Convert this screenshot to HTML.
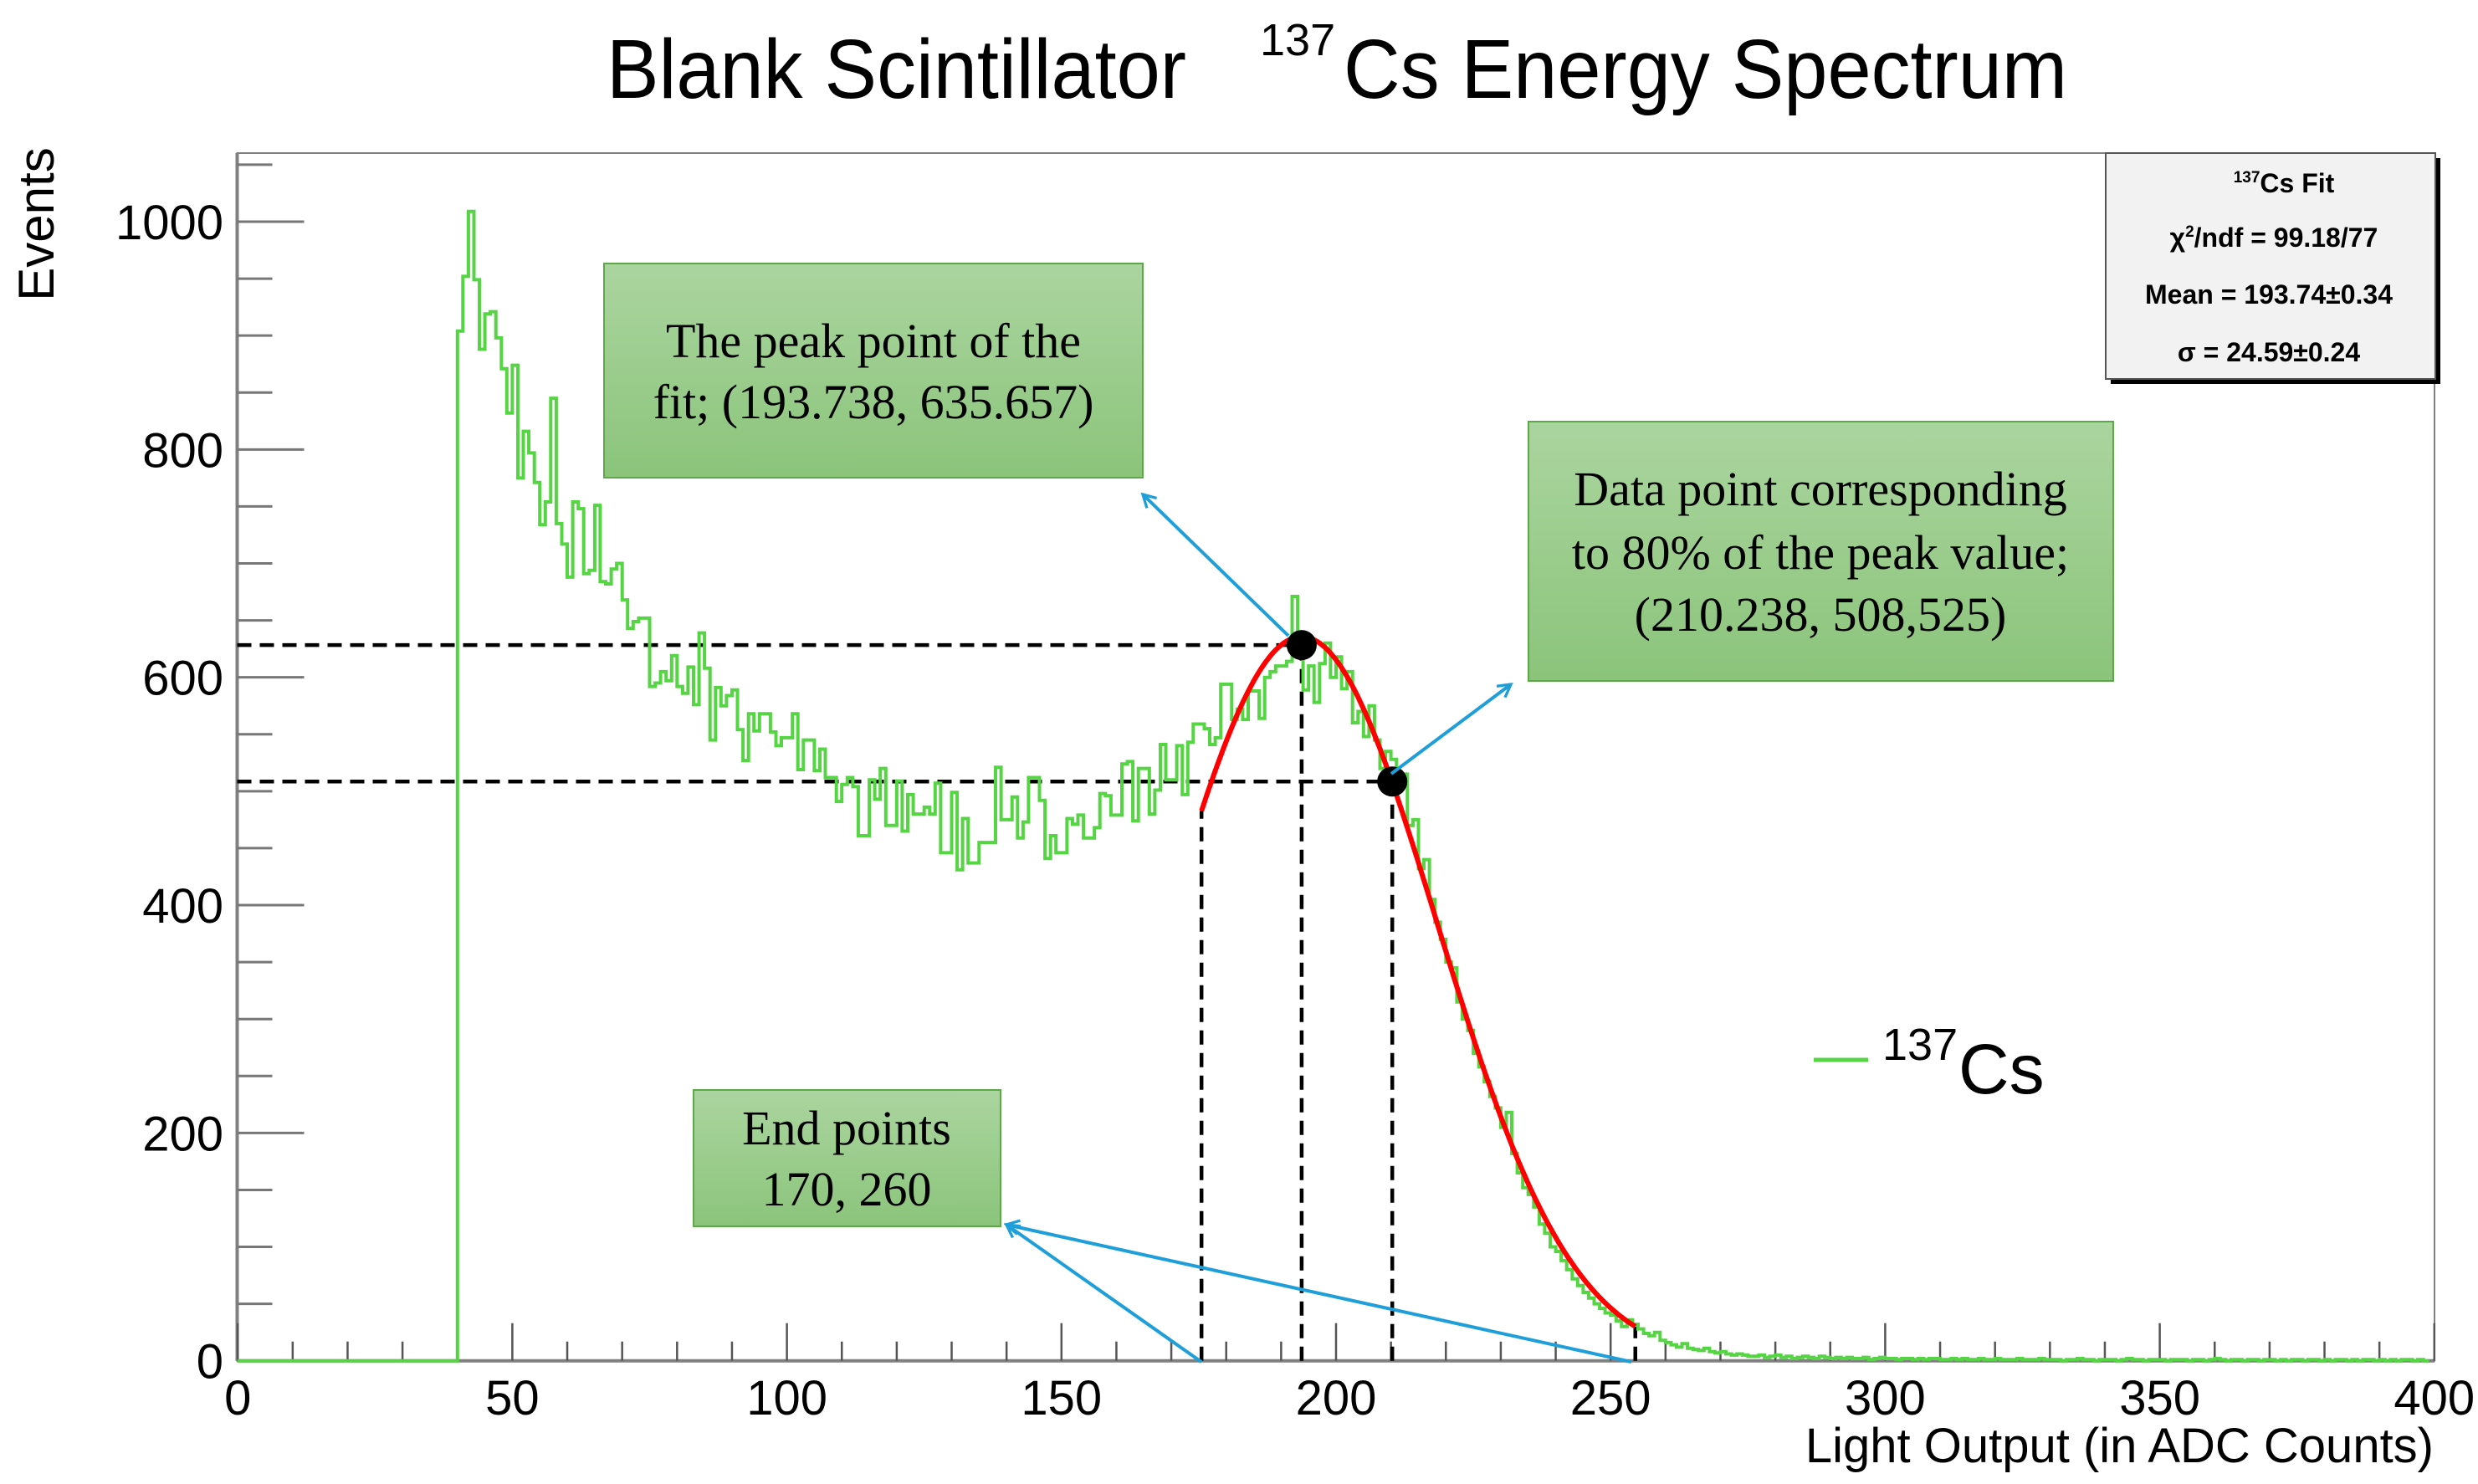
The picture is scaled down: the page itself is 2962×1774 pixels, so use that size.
<!DOCTYPE html>
<html><head><meta charset="utf-8"><style>
html,body{margin:0;padding:0;background:#fff;}
svg{display:block;}
text{font-family:"Liberation Sans",sans-serif;}
.serif{font-family:"Liberation Serif",serif;}
</style></head><body>
<svg id="chart" width="2962" height="1774" viewBox="0 0 2962 1774" xmlns="http://www.w3.org/2000/svg">
<defs>
<linearGradient id="gbox" x1="0" y1="0" x2="0" y2="1"><stop offset="0" stop-color="#abd59f"/><stop offset="1" stop-color="#8bc47b"/></linearGradient>
<marker id="arr" viewBox="0 0 12 12" refX="10" refY="6" markerWidth="5" markerHeight="5" orient="auto"><path d="M1,1 L10,6 L1,11" fill="none" stroke="#1f9fd9" stroke-width="2"/></marker>
</defs>
<g>
<text x="725" y="117" font-size="100" textLength="693" lengthAdjust="spacingAndGlyphs">Blank Scintillator</text>
<text x="1506" y="66" font-size="54">137</text>
<text x="1606" y="117" font-size="100" textLength="865" lengthAdjust="spacingAndGlyphs">Cs Energy Spectrum</text>
</g>
<text transform="translate(64,268) rotate(-90)" text-anchor="middle" font-size="60">Events</text>
<text x="2909" y="1748" text-anchor="end" font-size="58">Light Output (in ADC Counts)</text>
<rect x="283.5" y="183" width="2626.5" height="1443.7" fill="none" stroke="#808080" stroke-width="2"/>
<g id="axes"></g>
<g id="annot-lines"></g>
<path id="hist" fill="none" stroke="#55d444" stroke-width="4"/>
<path id="fit" fill="none" stroke="#ff0000" stroke-width="6"/>
<g id="annot-marks"></g>
<g>
<rect x="2523" y="189" width="394" height="270" fill="#000"/>
<rect x="2517" y="183" width="394" height="270" fill="#f2f2f2" stroke="#555" stroke-width="2"/>
<text x="2730" y="230" text-anchor="middle" font-size="32" font-weight="bold"><tspan font-size="19" dy="-12">137</tspan><tspan dy="12">Cs Fit</tspan></text>
<text x="2718" y="295" text-anchor="middle" font-size="32" font-weight="bold">χ<tspan font-size="19" dy="-12">2</tspan><tspan dy="12">/ndf = 99.18/77</tspan></text>
<text x="2712" y="363" text-anchor="middle" font-size="32" font-weight="bold">Mean = 193.74±0.34</text>
<text x="2712" y="432" text-anchor="middle" font-size="32" font-weight="bold">σ = 24.59±0.24</text>
</g>
<g>
<line x1="2168" y1="1267" x2="2233" y2="1267" stroke="#55d444" stroke-width="5"/>
<text x="2250" y="1267" font-size="54">137</text>
<text x="2341" y="1307" font-size="84">Cs</text>
</g>
<g>
<rect x="722" y="315" width="644" height="256" fill="url(#gbox)" stroke="#5ea84a" stroke-width="2"/>
<text class="serif" x="1044" y="427" text-anchor="middle" font-size="58">The peak point of the</text>
<text class="serif" x="1044" y="500" text-anchor="middle" font-size="58">fit; (193.738, 635.657)</text>
</g>
<g>
<rect x="1827" y="504" width="699" height="310" fill="url(#gbox)" stroke="#5ea84a" stroke-width="2"/>
<text class="serif" x="2176" y="604" text-anchor="middle" font-size="58">Data point corresponding</text>
<text class="serif" x="2176" y="680" text-anchor="middle" font-size="58">to 80% of  the peak value;</text>
<text class="serif" x="2176" y="754" text-anchor="middle" font-size="58">(210.238, 508,525)</text>
</g>
<g>
<rect x="829" y="1303" width="367" height="163" fill="url(#gbox)" stroke="#5ea84a" stroke-width="2"/>
<text class="serif" x="1012" y="1368" text-anchor="middle" font-size="58">End points</text>
<text class="serif" x="1012" y="1441" text-anchor="middle" font-size="58">170, 260</text>
</g>
</svg>
<script>
const xTicks = [0,50,100,150,200,250,300,350,400];
const yTicks = [0,200,400,600,800,1000];
const counts = [
0,0,0,0,0,0,0,0,0,0,0,0,0,0,0,0,0,0,0,0,0,0,0,0,0,0,0,0,0,0,0,0,0,0,0,0,0,0,0,0,
904,952,1009,949,888,919,921,898,871,832,874,
775,816,797,771,734,754,845,735,717,688,754,748,691,694,751,684,682,695,700,668,
643,649,652,652,592,595,605,597,619,592,586,609,576,639,608,545,591,575,584,589,
554,527,568,
553,568,568,552,540,547,547,568,519,545,545,518,537,512,512,491,506,512,504,461,461,
510,493,520,470,470,509,465,497,480,480,486,480,507,446,446,499,431,476,437,437,
455,455,455,521,475,475,495,459,473,512,512,492,441,461,446,446,476,471,479,459,459,
468,498,496,479,479,524,526,474,520,520,480,501,541,510,510,540,497,543,559,559,
555,541,547,594,594,563,572,563,588,588,564,600,605,610,610,614,671,619,589,610,578,
612,630,600,618,590,605,560,570,548,575,545,520,535,528,510,
515,470,475,432,440,405,385,370,350,345,315,300,290,270,258,245,232,222,205,218,
182,165,152,146,135,120,112,100,96,88,80,72,66,60,55,50,46,42,40,35,
30,36,32,28,24,22,25,18,16,14,12,15,11,10,9,11,8,7,8,6,
5,6,5,4,4,5,3,4,5,3,4,2,3,4,3,2,4,3,2,3,2,3,2,2,3,1,2,3,2,2,1,2,2,1,2,1,2,2,1,1,
2,1,2,1,1,2,1,1,2,1,1,1,2,1,1,1,2,1,1,1,0,1,1,2,1,1,0,1,1,1,0,1,2,1,1,0,1,1,1,0,
1,1,1,0,1,1,0,1,2,1,0,1,1,0,1,1,0,1,1,0,1,0,1,1,0,1,1,0,1,0,1,1,0,1,0,1,1,0,1,0,
1,0,1,1,0,1,0
];
const fitParams = [635.657, 193.738, 24.59];
const fitRange = [175.5, 254.5];
const peakPoint = [193.738, 635.657];
const eightyPoint = [210.238, 508.525];
const endPoints = [175.5, 254.5];

const X0=284.2, XS=6.564, Y0=1626.7, YS=1.3617;
function sx(v){return X0+v*XS;}
function sy(v){return Y0-v*YS;}
const NS='http://www.w3.org/2000/svg';
function mk(tag, attrs, parent){const e=document.createElementNS(NS,tag);for(const k in attrs)e.setAttribute(k,attrs[k]);parent.appendChild(e);return e;}

const axes=document.getElementById('axes');
const xa=mk('line',{x1:283.5,y1:Y0,x2:2910,y2:Y0,stroke:'#808080','stroke-width':4},axes);


const ya=mk('line',{x1:283.5,y1:183,x2:283.5,y2:Y0,stroke:'#808080','stroke-width':4},axes);


for(let v=0;v<=400;v+=10){
  const major=(v%50===0);
  const t=mk('line',{x1:sx(v),y1:Y0,x2:sx(v),y2:Y0-(major?45:23),stroke:'#555','stroke-width':2.5},axes);
  
  
}
xTicks.forEach(v=>{
  const t=mk('text',{x:sx(v),y:1691,'text-anchor':'middle','font-size':58},axes);
  t.textContent=String(v);
  
  
});
for(let v=0;v<=1050;v+=50){
  const major=(v%200===0);
  const t=mk('line',{x1:283.5,y1:sy(v),x2:283.5+(major?80:42),y2:sy(v),stroke:'#777','stroke-width':3},axes);
  
  
}
yTicks.forEach(v=>{
  const t=mk('text',{x:267,y:sy(v)+21,'text-anchor':'end','font-size':58},axes);
  t.textContent=String(v);
  
  
});

let d='M'+sx(0)+','+sy(0);
for(let i=0;i<counts.length && i<400;i++){d+=' V'+sy(counts[i]).toFixed(1)+' H'+sx(i+1).toFixed(1);}
document.getElementById('hist').setAttribute('d',d);

function gaus(x){return fitParams[0]*Math.exp(-Math.pow(x-fitParams[1],2)/(2*fitParams[2]*fitParams[2]));}
let fd='';
for(let x=fitRange[0];x<=fitRange[1]+0.01;x+=0.5){fd+=(fd?' L':'M')+sx(x).toFixed(1)+','+sy(gaus(x)).toFixed(1);}
document.getElementById('fit').setAttribute('d',fd);

const al=document.getElementById('annot-lines');
const dash={stroke:'#000','stroke-width':4.5,'stroke-dasharray':'17,10',fill:'none'};
function dline(x1,y1,x2,y2,name){const e=mk('line',Object.assign({x1:x1,y1:y1,x2:x2,y2:y2},dash),al);}
dline(283.5,sy(peakPoint[1])+10,sx(peakPoint[0]),sy(peakPoint[1])+10,'peak-horizontal-guide');
dline(283.5,sy(eightyPoint[1]),sx(eightyPoint[0]),sy(eightyPoint[1]),'eighty-horizontal-guide');
dline(sx(peakPoint[0]),Y0,sx(peakPoint[0]),sy(peakPoint[1])+10,'peak-vertical-guide');
dline(sx(eightyPoint[0]),Y0,sx(eightyPoint[0]),sy(eightyPoint[1]),'eighty-vertical-guide');
dline(sx(endPoints[0]),Y0,sx(endPoints[0]),sy(gaus(endPoints[0])),'start-vertical-guide');
dline(sx(endPoints[1]),Y0,sx(endPoints[1]),sy(gaus(endPoints[1])),'end-vertical-guide');

const am=document.getElementById('annot-marks');
const p1=mk('circle',{cx:sx(peakPoint[0]),cy:sy(peakPoint[1])+10,r:18,fill:'#000'},am);


const p2=mk('circle',{cx:sx(eightyPoint[0]),cy:sy(eightyPoint[1]),r:18,fill:'#000'},am);


function arrow(x1,y1,x2,y2,name){const e=mk('line',{x1:x1,y1:y1,x2:x2,y2:y2,stroke:'#1f9fd9','stroke-width':4,'marker-end':'url(#arr)'},am);}
arrow(1540,760,1366,591,'peak-arrow');
arrow(1663,925,1806,818,'eighty-arrow');
arrow(1436,1628,1203,1464,'start-point-arrow');
arrow(1950,1628,1203,1464,'end-point-arrow');
</script>
</body></html>
